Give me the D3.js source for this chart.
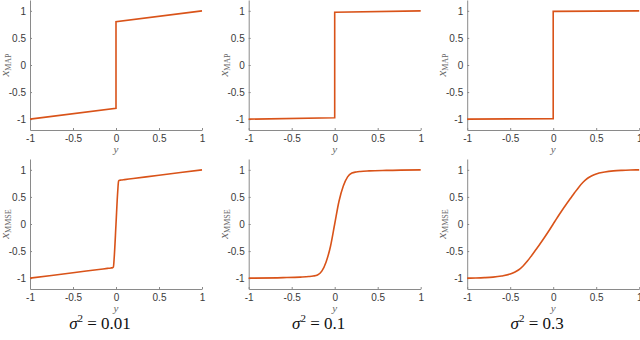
<!DOCTYPE html>
<html>
<head>
<meta charset="utf-8">
<script src="https://cdn.jsdelivr.net/npm/d3@7"></script>
<style>
  body { margin: 0; background: #fff; }
  svg { display: block; }
</style>
</head>
<body>
<script>
(function(){
    var width = 640,
        height = 340;

    // noise levels (one column each)
    var sigmaLabels = ["0.01", "0.1", "0.3"];

    // MAP estimates, top row
    var mapY01 = [-1, 0, 0, 1];
    var mapX01 = [-1, -0.8, 0.8, 1];
    var mapY1  = [-1, 0, 0, 1];
    var mapX1  = [-1, -0.975, 0.975, 1];
    var mapY3  = [-1, 0, 0, 1];
    var mapX3  = [-1, -0.99, 0.99, 1];

    // MMSE estimates, bottom row
    var mmseY01 = [-1, -0.5, -0.2, -0.1, -0.06, -0.04, -0.03, -0.02, 0, 0.02, 0.03, 0.04, 0.06, 0.1, 0.2, 0.5, 1];
    var mmseX01 = [-1, -0.9, -0.84, -0.82, -0.812, -0.806, -0.79, -0.6, 0, 0.6, 0.79, 0.806, 0.812, 0.82, 0.84, 0.9, 1];
    var mmseY1  = [-1, -0.6, -0.4, -0.3, -0.25, -0.2, -0.15, -0.1, -0.05, 0, 0.05, 0.1, 0.15, 0.2, 0.25, 0.3, 0.4, 0.6, 1];
    var mmseX1  = [-1, -0.99, -0.98, -0.97, -0.96, -0.94, -0.87, -0.7, -0.42, 0, 0.42, 0.7, 0.87, 0.94, 0.96, 0.97, 0.98, 0.99, 1];
    var mmseY3  = [-1, -0.9, -0.8, -0.7, -0.6, -0.5, -0.45, -0.4, -0.35, -0.3, -0.25, -0.2, -0.15, -0.1, -0.05, 0,
                   0.05, 0.1, 0.15, 0.2, 0.25, 0.3, 0.35, 0.4, 0.45, 0.5, 0.6, 0.7, 0.8, 0.9, 1];
    var mmseX3  = [-1, -0.996, -0.99, -0.98, -0.96, -0.925, -0.89, -0.845, -0.775, -0.685, -0.58, -0.47, -0.36, -0.245, -0.125, 0,
                   0.125, 0.245, 0.36, 0.47, 0.58, 0.685, 0.775, 0.845, 0.89, 0.925, 0.96, 0.98, 0.99, 0.996, 1];

    var tickVals = [-1, -0.5, 0, 0.5, 1];

    var rows = [
        { label: "MAP",  top: 0,   bottom: 130, curve: d3.curveLinear,
          series: [[mapY01, mapX01], [mapY1, mapX1], [mapY3, mapX3]] },
        { label: "MMSE", top: 159, bottom: 289, curve: d3.curveMonotoneX,
          series: [[mmseY01, mmseX01], [mmseY1, mmseX1], [mmseY3, mmseX3]] }
    ];
    var colLeft = [30, 248.7, 467.2],
        panelW = 172;

    var svg = d3.select("body").append("svg")
                .attr("width", width)
                .attr("height", height);

    rows.forEach(function(row){
        row.series.forEach(function(s, c){
            var x = d3.scaleLinear().domain([-1, 1]).range([colLeft[c], colLeft[c] + panelW]);
            var y = d3.scaleLinear().domain([-1.2, 1.2]).range([row.bottom, row.top]);

            var g = svg.append("g");

            // x axis
            var xa = g.append("g")
                      .attr("transform", "translate(0," + row.bottom + ")")
                      .call(d3.axisBottom(x).tickValues(tickVals).tickSizeInner(-2).tickSizeOuter(0)
                              .tickPadding(5).tickFormat(function(d){ return String(d); }));
            // y axis
            var ya = g.append("g")
                      .attr("transform", "translate(" + colLeft[c] + ",0)")
                      .call(d3.axisLeft(y).tickValues(tickVals).tickSizeInner(-2).tickSizeOuter(0)
                              .tickPadding(4).tickFormat(function(d){ return String(d); }));

            [xa, ya].forEach(function(a){
                a.select(".domain").attr("stroke", "#8a8a8a");
                a.selectAll(".tick line").attr("stroke", "#8a8a8a");
                a.selectAll(".tick text")
                 .attr("fill", "#3a3a3a")
                 .style("font-family", "'Liberation Sans', Arial, sans-serif")
                 .style("font-size", "10px");
            });

            // curve
            var line = d3.line()
                         .x(function(d){ return x(d[0]); })
                         .y(function(d){ return y(d[1]); })
                         .curve(row.curve);
            g.append("path")
             .datum(d3.zip(s[0], s[1]))
             .attr("d", line)
             .attr("fill", "none")
             .attr("stroke", "#D95319")
             .attr("stroke-width", 1.6);

            // x label
            g.append("text")
             .attr("x", x(0))
             .attr("y", row.bottom + 23)
             .attr("text-anchor", "middle")
             .attr("fill", "#666")
             .style("font-family", "'Liberation Serif', serif")
             .style("font-style", "italic")
             .style("font-size", "11px")
             .text("y");

            // y label
            var yl = g.append("text")
                      .attr("transform", "translate(" + (colLeft[c] - 21) + "," + y(0) + ") rotate(-90)")
                      .attr("text-anchor", "middle")
                      .attr("fill", "#666")
                      .style("font-family", "'Liberation Serif', serif");
            yl.append("tspan")
              .style("font-style", "italic")
              .style("font-size", "13px")
              .text("x");
            yl.append("tspan")
              .attr("dy", 2)
              .style("font-size", "8px")
              .text(row.label);
        });
    });

    // column titles
    sigmaLabels.forEach(function(lbl, c){
        var t = svg.append("text")
                   .attr("x", colLeft[c] + panelW / 2 - 16)
                   .attr("y", 329)
                   .attr("text-anchor", "middle")
                   .attr("fill", "#111")
                   .style("font-family", "'Liberation Serif', serif")
                   .style("font-size", "17px");
        t.append("tspan").style("font-style", "italic").text("σ");
        t.append("tspan").attr("dy", -7).style("font-size", "11px").text("2");
        t.append("tspan").attr("dy", 7).text(" = " + lbl);
    });
})();
</script>
</body>
</html>
